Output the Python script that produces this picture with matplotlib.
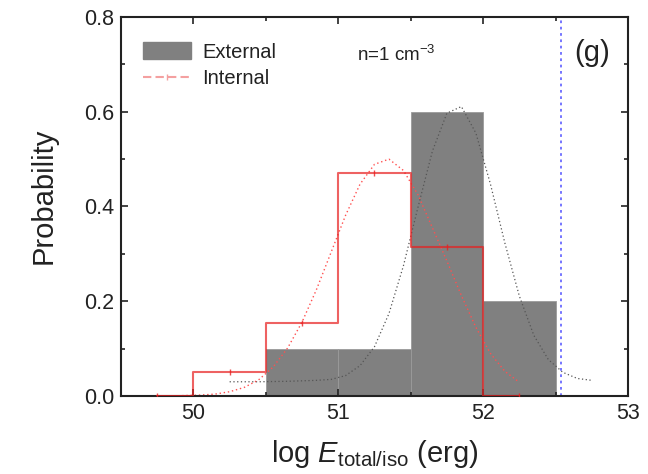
import matplotlib
matplotlib.use("Agg")
import matplotlib.pyplot as plt
from matplotlib.lines import Line2D
from matplotlib.patches import Patch
from matplotlib.ticker import MultipleLocator

plt.rcParams["font.family"] = ["Liberation Sans", "DejaVu Sans"]
plt.rcParams["mathtext.fontset"] = "custom"
plt.rcParams["mathtext.rm"] = "Liberation Sans"
plt.rcParams["mathtext.it"] = "Liberation Sans:italic"

# external histogram (bin centres, probability)
ext_x = [50.75, 51.25, 51.75, 52.25]
ext_prob = [0.10, 0.10, 0.60, 0.20]

# internal histogram, drawn as a centred step line
int_x = [49.75, 50.25, 50.75, 51.25, 51.75, 52.25]
int_prob = [0.0, 0.05, 0.155, 0.47, 0.315, 0.0]

# fitted curves
fit_int_x = [49.75, 49.85, 49.95, 50.05, 50.15, 50.25, 50.35, 50.45, 50.55, 50.65,
             50.75, 50.85, 50.95, 51.05, 51.15, 51.25, 51.35, 51.45, 51.55, 51.65,
             51.75, 51.85, 51.95, 52.05, 52.15, 52.25]
fit_int_y = [0.000, 0.000, 0.001, 0.002, 0.004, 0.009, 0.018, 0.034, 0.061, 0.101,
             0.156, 0.225, 0.303, 0.381, 0.447, 0.489, 0.500, 0.476, 0.425, 0.355,
             0.285, 0.212, 0.145, 0.090, 0.052, 0.029]
fit_ext_x = [50.25, 50.45, 50.65, 50.85, 50.95, 51.05, 51.15, 51.25, 51.35, 51.45,
             51.55, 51.65, 51.75, 51.85, 51.95, 52.05, 52.15, 52.25, 52.35, 52.45,
             52.55, 52.65, 52.75]
fit_ext_y = [0.030, 0.030, 0.031, 0.033, 0.035, 0.043, 0.064, 0.104, 0.174, 0.275,
             0.398, 0.517, 0.597, 0.611, 0.555, 0.448, 0.323, 0.211, 0.128, 0.077,
             0.050, 0.037, 0.033]

limit_x = 52.54

fig = plt.figure(figsize=(6.48, 4.74), dpi=100)
ax = fig.add_axes([0.1867, 0.1646, 0.7824, 0.7995])

ax.bar(ext_x, ext_prob, width=0.5, color="#808080", edgecolor="#9a9a9a",
       linewidth=0.6, zorder=1)
ax.plot(fit_ext_x, fit_ext_y, color="#555555", linestyle=(0, (1, 2)),
        linewidth=0.9, zorder=2)
ax.plot(fit_int_x, fit_int_y, color="#ff5050", linestyle=(0, (1, 2)),
        linewidth=1.0, zorder=2)
ax.plot(int_x, int_prob, drawstyle="steps-mid", color="#e82020", alpha=0.7,
        linewidth=1.5, zorder=3)
ax.plot(int_x, int_prob, linestyle="none", marker="|", markersize=5,
        color="#e82020", alpha=0.8, zorder=3)
ax.axvline(limit_x, color="#6a6aff", linestyle=(0, (1.5, 2)), linewidth=1.3,
           zorder=2)

ax.set_xlim(49.5, 53)
ax.set_ylim(0, 0.8)
ax.xaxis.set_major_locator(MultipleLocator(1))
ax.xaxis.set_minor_locator(MultipleLocator(0.5))
ax.yaxis.set_major_locator(MultipleLocator(0.2))
ax.yaxis.set_minor_locator(MultipleLocator(0.1))
ax.tick_params(which="both", direction="in", top=True, right=True,
               colors="#222222", labelsize=15.5, width=1.2)
ax.tick_params(which="major", length=5, pad=5)
ax.tick_params(which="minor", length=3)
ax.yaxis.set_major_formatter(plt.FormatStrFormatter("%.1f"))
for s in ax.spines.values():
    s.set_linewidth(1.5)
    s.set_color("#222222")

ax.set_xlabel(r"log $\mathit{E}_{\rm total/iso}$ (erg)", fontsize=21,
              color="#222222", labelpad=10)
ax.set_ylabel("Probability", fontsize=21, color="#222222")
ax.yaxis.set_label_coords(-0.152, 0.528)
ax.yaxis.label.set_verticalalignment("center")

handles = [Patch(facecolor="#808080", edgecolor="#808080"),
           Line2D([], [], color="#f4a0a0", linestyle=(0, (4, 2)), marker="|",
                  markersize=5, linewidth=1.5)]
ax.legend(handles, ["External", "Internal"], loc="upper left",
          bbox_to_anchor=(0.0276, 0.955), borderaxespad=0, frameon=False,
          fontsize=14.5, handlelength=2.4, handleheight=0.95,
          handletextpad=0.55, labelspacing=0.35, labelcolor="#222222")

ax.text(51.13, 0.72, r"n=1 cm$^{-3}$", fontsize=13.5, color="#222222",
        va="center")
ax.text(52.75, 0.725, "(g)", fontsize=21, color="#222222", ha="center",
        va="center")

fig.savefig("out.png", dpi=100)
